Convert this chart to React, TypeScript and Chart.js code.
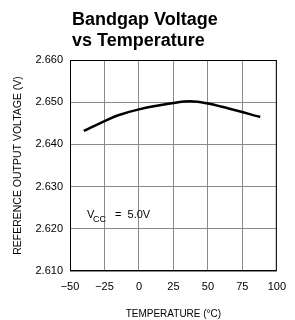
import React, { useEffect, useRef } from "react";
import { Chart, registerables } from "chart.js";

Chart.register(...registerables);

const temperatures = [-40, -25, -15, 0, 25, 37, 50, 65, 88];
const voltages = [2.6432, 2.6455, 2.6469, 2.6483, 2.6498, 2.6502, 2.6497, 2.6485, 2.6465];
const xTicks = [-50, -25, 0, 25, 50, 75, 100];
const yTicks = [2.61, 2.62, 2.63, 2.64, 2.65, 2.66];
const titleLines = ["Bandgap Voltage", "vs Temperature"];
const xTitle = "TEMPERATURE (°C)";
const yTitle = "REFERENCE OUTPUT VOLTAGE (V)";

const FONT = "'Liberation Sans', Arial, sans-serif";

const overlayPlugin = {
  id: "overlay",
  afterDraw(chart: any) {
    const ctx = chart.ctx;
    const area = chart.chartArea;
    ctx.save();
    ctx.fillStyle = "#000";
    ctx.textBaseline = "alphabetic";
    ctx.textAlign = "left";
    ctx.font = `bold 18px ${FONT}`;
    ctx.fillText(titleLines[0], 72, 25);
    ctx.fillText(titleLines[1], 72, 46);
    // frame
    ctx.strokeStyle = "#000";
    ctx.lineWidth = 1;
    ctx.strokeRect(area.left + 0.5, area.top + 0.5, area.right - area.left - 1, area.bottom - area.top - 1);
    // annotation
    ctx.font = `11px ${FONT}`;
    ctx.fillText("V", 87, 218);
    ctx.font = `9px ${FONT}`;
    ctx.fillText("CC", 93, 222);
    ctx.font = `11px ${FONT}`;
    ctx.fillText("=  5.0V", 115, 218);
    ctx.restore();
  },
};

export default function App() {
  const ref = useRef<HTMLCanvasElement>(null);
  useEffect(() => {
    document.body.style.margin = "0";
    const chart = new Chart(ref.current!, {
      type: "line",
      data: {
        datasets: [
          {
            data: temperatures.map((t, i) => ({ x: t, y: voltages[i] })),
            borderColor: "#000",
            borderWidth: 2.5,
            pointRadius: 0,
            cubicInterpolationMode: "monotone",
            fill: false,
          },
        ],
      },
      options: {
        animation: false,
        responsive: false,
        layout: { padding: { left: 0, top: 60, right: 9, bottom: 0 } },
        plugins: { legend: { display: false }, tooltip: { enabled: false }, title: { display: false } },
        scales: {
          x: {
            type: "linear",
            min: -50,
            max: 100,
            afterBuildTicks: (s: any) => {
              s.ticks = xTicks.map((v) => ({ value: v }));
            },
            afterFit: (s: any) => {
              s.height = 49;
            },
            grid: { color: "#8a8a8a", drawTicks: false, lineWidth: 1 },
            border: { display: false },
            ticks: {
              color: "#000",
              font: { family: FONT, size: 11 },
              padding: 9,
              maxRotation: 0,
              callback: (v: any) => (v < 0 ? "\u2212" + Math.abs(v) : String(v)),
            },
            title: {
              display: true,
              text: xTitle,
              color: "#000",
              font: { family: FONT, size: 10 },
              padding: { top: 6, bottom: 0 },
            },
          },
          y: {
            type: "linear",
            min: 2.61,
            max: 2.66,
            afterBuildTicks: (s: any) => {
              s.ticks = yTicks.map((v) => ({ value: v }));
            },
            afterFit: (s: any) => {
              s.width = 70;
            },
            grid: { color: "#8a8a8a", drawTicks: false, lineWidth: 1 },
            border: { display: false },
            ticks: {
              color: "#000",
              font: { family: FONT, size: 11 },
              padding: 7,
              callback: (v: any) => Number(v).toFixed(3),
            },
            title: {
              display: true,
              text: yTitle,
              color: "#000",
              font: { family: FONT, size: 10.5 },
              padding: { top: 12, bottom: 0 },
            },
          },
        },
      },
      plugins: [overlayPlugin],
    } as any);
    return () => chart.destroy();
  }, []);
  return (
    <div style={{ width: 295, height: 320 }}>
      <canvas ref={ref} width={295} height={320} style={{ display: "block" }} />
    </div>
  );
}
